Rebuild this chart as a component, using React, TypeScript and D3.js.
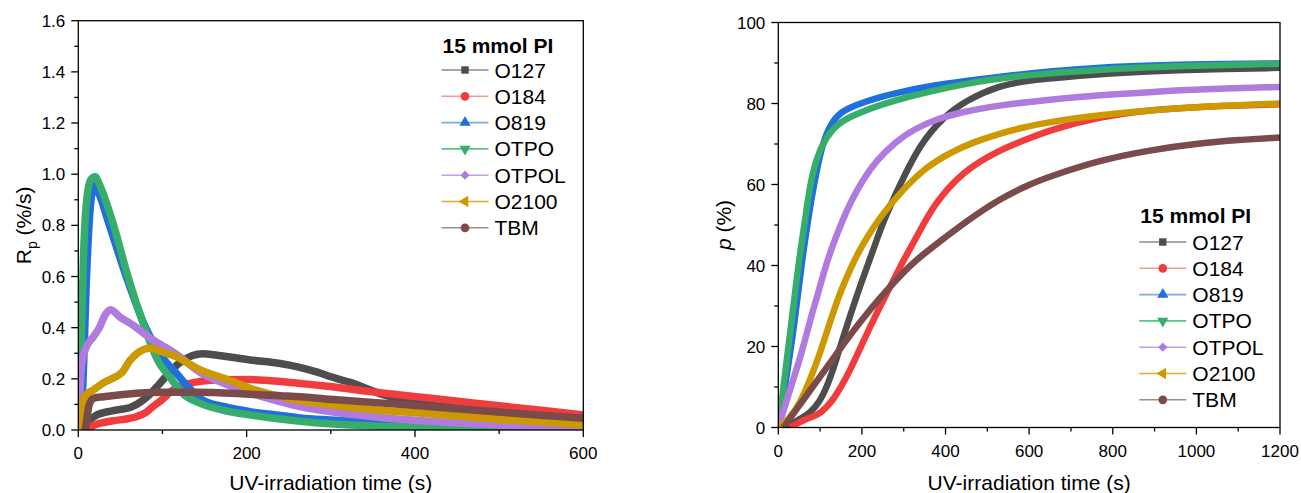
import React from "react";
import * as d3 from "d3";

type Pt = [number, number];

// ---------- Series metadata ----------
const seriesNames = ["O127", "O184", "O819", "OTPO", "OTPOL", "O2100", "TBM"];
const seriesColors = ["#4d4d4d", "#f03c3c", "#1f6fde", "#36ad6a", "#b07adf", "#cc9900", "#7b4b4b"];
const legendLineColors = ["#8a8a8a", "#f49a9a", "#7eaaea", "#5cc088", "#c29ded", "#d8ad30", "#a58a8a"];
const legendTitle = "15 mmol PI";

// ---------- Left panel: Rp (%/s) vs time (s) ----------
const rpO127: Pt[] = [[12,0.035],[20,0.055],[40,0.075],[63,0.09],[75,0.112],[85,0.14],[95,0.175],[107,0.22],[120,0.262],[135,0.29],[148,0.298],[165,0.292],[204,0.274],[240,0.26],[263,0.245],[285,0.225],[299,0.209],[323,0.186],[362,0.138],[394,0.112],[422,0.098],[460,0.082],[500,0.068],[550,0.055],[600,0.045]];
const rpO184: Pt[] = [[12,0],[15,0.012],[20,0.02],[40,0.035],[60,0.045],[69,0.052],[80,0.068],[88,0.09],[100,0.12],[109,0.148],[117,0.166],[130,0.18],[145,0.19],[170,0.196],[204,0.197],[240,0.19],[264,0.182],[299,0.17],[350,0.149],[422,0.123],[500,0.095],[550,0.077],[600,0.059]];
const rpO819: Pt[] = [[0,0],[5,0.15],[10,0.62],[14,0.86],[19,0.96],[25,0.92],[37,0.8],[57,0.6],[80,0.4],[101,0.28],[117,0.22],[130,0.17],[145,0.122],[175,0.09],[204,0.072],[240,0.057],[264,0.047],[299,0.039],[350,0.03],[422,0.02],[500,0.013],[600,0.007]];
const rpOTPO: Pt[] = [[0,0],[2,0.21],[4,0.4],[6,0.66],[10,0.9],[15,0.98],[20,0.99],[25,0.96],[42,0.8],[59,0.6],[79,0.4],[94,0.274],[109,0.205],[125,0.14],[145,0.104],[175,0.075],[204,0.059],[240,0.043],[264,0.034],[299,0.024],[350,0.016],[422,0.01],[500,0.006],[600,0.003]];
const rpOTPOL: Pt[] = [[0,0.04],[2,0.15],[4,0.26],[9,0.32],[18,0.365],[25,0.4],[32,0.45],[38,0.47],[50,0.44],[65,0.41],[77,0.38],[85,0.36],[100,0.33],[117,0.295],[145,0.225],[175,0.18],[204,0.144],[235,0.115],[263,0.092],[299,0.072],[350,0.052],[422,0.033],[500,0.02],[600,0.008]];
const rpO2100: Pt[] = [[0,0],[2,0.05],[5,0.11],[10,0.14],[18,0.157],[30,0.185],[45,0.209],[52,0.225],[61,0.27],[70,0.3],[85,0.32],[100,0.305],[117,0.285],[145,0.235],[175,0.2],[204,0.163],[235,0.135],[263,0.115],[299,0.098],[350,0.08],[422,0.062],[500,0.042],[600,0.021]];
const rpTBM: Pt[] = [[8,0],[10,0.04],[13,0.1],[18,0.124],[30,0.13],[69,0.144],[100,0.148],[140,0.148],[204,0.14],[240,0.134],[264,0.13],[299,0.12],[350,0.108],[422,0.09],[500,0.07],[550,0.058],[600,0.046]];
const rpSeries = [rpO127, rpO184, rpO819, rpOTPO, rpOTPOL, rpO2100, rpTBM];

const leftXTicks = [0, 200, 400, 600];
const leftXMinor = [100, 300, 500];
const leftYTicks = [0, 0.2, 0.4, 0.6, 0.8, 1.0, 1.2, 1.4, 1.6];
const leftYMinor = [0.1, 0.3, 0.5, 0.7, 0.9, 1.1, 1.3, 1.5];

// ---------- Right panel: conversion p (%) vs time (s) ----------
const pO127: Pt[] = [[12,0],[30,0.8],[50,2],[76,3.5],[100,6.5],[116,10],[132,14.5],[148,20],[170,27],[195,34.8],[227,43.8],[251,51],[291,60],[339,70],[395,76.7],[451,80.9],[530,84.5],[600,85.8],[769,87.3],[900,88],[1008,88.4],[1200,88.8]];
const pO184: Pt[] = [[28,0],[45,1],[60,1.8],[80,2.6],[100,3.5],[115,5],[132,7],[150,10],[172,14.2],[200,20.5],[227,26.5],[259,33],[295,40.5],[331,47],[371,55],[443,63.5],[530,68.5],[578,70.5],[650,73.5],[769,76.8],[900,78.5],[1008,79.2],[1128,79.6],[1200,79.8]];
const pO819: Pt[] = [[0,0],[16,10],[40,26.5],[55,40],[71,51.2],[85,60],[105,70],[125,75],[150,78],[188,79.8],[250,81.8],[291,82.8],[360,84.3],[451,85.6],[530,86.6],[650,88],[769,88.9],[900,89.4],[1008,89.7],[1200,89.9]];
const pOTPO: Pt[] = [[0,0],[6,4],[12,10],[22,18],[32,26.5],[42,35],[52,43],[64,51.2],[76,60],[90,66],[108,70.6],[140,75.1],[188,77.6],[291,81.3],[451,85],[550,86.6],[769,88.5],[1008,89.4],[1200,89.8]];
const pOTPOL: Pt[] = [[0,0],[15,5],[30,10],[55,18],[76,26.5],[95,33],[112,39.5],[130,45],[156,51.8],[175,56],[200,60.8],[235,66],[280,70.5],[323,73.6],[380,76.2],[435,77.8],[530,79.6],[650,81],[769,82.1],[900,82.9],[1008,83.5],[1200,84.1]];
const pO2100: Pt[] = [[0,0],[25,2],[52,6],[75,11.5],[100,18.3],[125,26.5],[148,33.4],[175,39.9],[203,45.5],[243,52],[300,59],[355,64.4],[410,67.8],[467,70.5],[530,72.6],[578,73.9],[650,75.5],[769,77.2],[900,78.4],[1008,79.2],[1200,80]];
const pTBM: Pt[] = [[12,0],[40,4],[68,8],[100,12.5],[148,19.5],[195,26],[243,32],[291,37.5],[331,41.5],[387,46],[451,51],[530,56.5],[600,60],[650,62],[769,66],[889,68.5],[1008,70.2],[1100,71],[1200,71.6]];
const pSeries = [pO127, pO184, pO819, pOTPO, pOTPOL, pO2100, pTBM];

const rightXTicks = [0, 200, 400, 600, 800, 1000, 1200];
const rightXMinor = [100, 300, 500, 700, 900, 1100];
const rightYTicks = [0, 20, 40, 60, 80, 100];
const rightYMinor = [10, 30, 50, 70, 90];

const FONT = "'Liberation Sans', Arial, sans-serif";

const symbolTypes = [
  { type: d3.symbolSquare, rot: 0, size: 55 },
  { type: d3.symbolCircle, rot: 0, size: 60 },
  { type: d3.symbolTriangle, rot: 0, size: 55 },
  { type: d3.symbolTriangle, rot: 180, size: 55 },
  { type: d3.symbolSquare, rot: 45, size: 42 },
  { type: d3.symbolTriangle, rot: -90, size: 55 },
  { type: d3.symbolCircle, rot: 0, size: 60 },
];

interface PanelProps {
  id: string;
  x0: number; x1: number; y0: number; y1: number;
  xDomain: [number, number]; yDomain: [number, number];
  xTicks: number[]; xMinor: number[]; yTicks: number[]; yMinor: number[];
  yFmt: (v: number) => string;
  series: Pt[][];
  curve: d3.CurveFactory;
  strokeW: number;
  legendX: number; legendTitleY: number; legendRow0: number;
  yTitle: React.ReactNode; yTitleX: number;
}

function Panel(p: PanelProps) {
  const xs = d3.scaleLinear().domain(p.xDomain).range([p.x0, p.x1]);
  const ys = d3.scaleLinear().domain(p.yDomain).range([p.y1, p.y0]);
  const line = d3.line<Pt>().x(d => xs(d[0])).y(d => ys(d[1])).curve(p.curve);
  const rowH = 26.3;
  const majorLen = 7, minorLen = 4;
  return (
    <g>
      <defs>
        <clipPath id={p.id}>
          <rect x={p.x0} y={p.y0} width={p.x1 - p.x0} height={p.y1 - p.y0} />
        </clipPath>
      </defs>
      <g clipPath={`url(#${p.id})`}>
        {p.series.map((s, i) => (
          <path key={i} d={line(s) || ""} fill="none" stroke={seriesColors[i]} strokeWidth={p.strokeW} strokeLinejoin="round" strokeLinecap="butt" />
        ))}
      </g>
      <rect x={p.x0} y={p.y0} width={p.x1 - p.x0} height={p.y1 - p.y0} fill="none" stroke="#000" strokeWidth={1.3} />
      {p.xTicks.map(t => (
        <g key={"xt" + t}>
          <line x1={xs(t)} x2={xs(t)} y1={p.y1} y2={p.y1 + majorLen} stroke="#000" strokeWidth={1.3} />
          <text x={xs(t)} y={p.y1 + 29} textAnchor="middle" fontSize={17} fontFamily={FONT}>{t}</text>
        </g>
      ))}
      {p.xMinor.map(t => (
        <line key={"xm" + t} x1={xs(t)} x2={xs(t)} y1={p.y1} y2={p.y1 + minorLen} stroke="#000" strokeWidth={1.3} />
      ))}
      {p.yTicks.map(t => (
        <g key={"yt" + t}>
          <line x1={p.x0 - majorLen} x2={p.x0} y1={ys(t)} y2={ys(t)} stroke="#000" strokeWidth={1.3} />
          <text x={p.x0 - 13} y={ys(t) + 6} textAnchor="end" fontSize={17} fontFamily={FONT}>{p.yFmt(t)}</text>
        </g>
      ))}
      {p.yMinor.map(t => (
        <line key={"ym" + t} x1={p.x0 - minorLen} x2={p.x0} y1={ys(t)} y2={ys(t)} stroke="#000" strokeWidth={1.3} />
      ))}
      <text x={(p.x0 + p.x1) / 2} y={490} textAnchor="middle" fontSize={21} fontFamily={FONT}>UV-irradiation time (s)</text>
      <text transform={`translate(${p.yTitleX},${(p.y0 + p.y1) / 2}) rotate(-90)`} textAnchor="middle" fontSize={21} fontFamily={FONT}>{p.yTitle}</text>
      {/* legend */}
      <text x={p.legendX + 1} y={p.legendTitleY} fontSize={21} fontWeight="bold" fontFamily={FONT}>{legendTitle}</text>
      {seriesNames.map((name, i) => {
        const cy = p.legendRow0 + i * rowH;
        const sym = symbolTypes[i];
        const path = d3.symbol().type(sym.type).size(sym.size)() || "";
        return (
          <g key={name}>
            <line x1={p.legendX} x2={p.legendX + 47} y1={cy} y2={cy} stroke={legendLineColors[i]} strokeWidth={1.6} />
            <path d={path} transform={`translate(${p.legendX + 23.5},${cy}) rotate(${sym.rot})`} fill={seriesColors[i]} />
            <text x={p.legendX + 53} y={cy + 7.5} fontSize={21} fontFamily={FONT}>{name}</text>
          </g>
        );
      })}
    </g>
  );
}

export default function App() {
  return (
    <svg width={1301} height={493} style={{ position: "absolute", left: 0, top: 0, background: "#fff" }}>
      <rect x={0} y={0} width={1301} height={493} fill="#fff" />
      <Panel
        id="clipL" x0={78.3} x1={583.3} y0={20.7} y1={430}
        xDomain={[0, 600]} yDomain={[0, 1.6]}
        xTicks={leftXTicks} xMinor={leftXMinor} yTicks={leftYTicks} yMinor={leftYMinor}
        yFmt={v => v.toFixed(1)}
        series={rpSeries} curve={d3.curveMonotoneX} strokeW={7.5}
        legendX={441.5} legendTitleY={52.7} legendRow0={70}
        yTitle={<>R<tspan fontSize={14} dy={6}>p</tspan><tspan dy={-6}> (%/s)</tspan></>}
        yTitleX={31}
      />
      <Panel
        id="clipR" x0={778.3} x1={1280} y0={22.5} y1={427.5}
        xDomain={[0, 1200]} yDomain={[0, 100]}
        xTicks={rightXTicks} xMinor={rightXMinor} yTicks={rightYTicks} yMinor={rightYMinor}
        yFmt={v => String(v)}
        series={pSeries} curve={d3.curveBasis} strokeW={6.5}
        legendX={1139.3} legendTitleY={223} legendRow0={242}
        yTitle={<><tspan fontStyle="italic">p</tspan> (%)</>}
        yTitleX={731}
      />
    </svg>
  );
}
